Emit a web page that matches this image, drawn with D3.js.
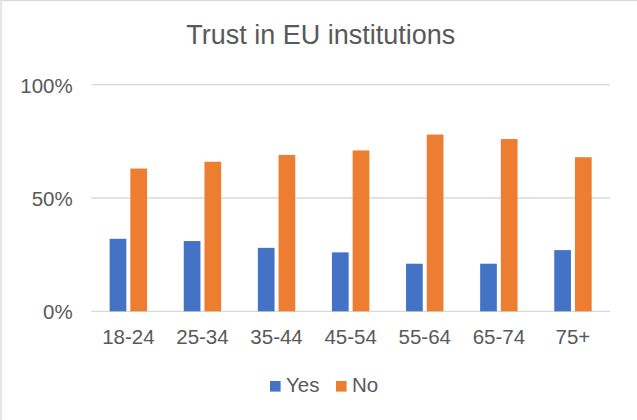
<!DOCTYPE html>
<html>
<head>
<meta charset="utf-8">
<script src="https://cdn.jsdelivr.net/npm/d3@7"></script>
<style>
  html, body { margin: 0; padding: 0; background: #fff; }
  svg { display: block; font-family: Arial, "Liberation Sans", sans-serif; }
</style>
</head>
<body>
<svg id="chart" width="637" height="420"></svg>
<script>
// Age groups along the x axis
const ageGroups = ["18-24", "25-34", "35-44", "45-54", "55-64", "65-74", "75+"];
// Share of respondents per age group (percent)
const yesValues = [32, 31, 28, 26, 21, 21, 27];
const noValues  = [63, 66, 69, 71, 78, 76, 68];
const seriesNames = ["Yes", "No"];
const seriesColors = ["#4472C4", "#ED7D31"];
const yTicks = [0, 50, 100];
const chartTitle = "Trust in EU institutions";

const svg = d3.select("#chart");
const W = 637, H = 420;
const textColor = "#595959";
const gridColor = "#d9d9d9";

// Chart frame
svg.append("rect")
  .attr("x", 1).attr("y", 0.5)
  .attr("width", W + 10).attr("height", H + 10)
  .attr("fill", "#fff")
  .attr("stroke", gridColor).attr("stroke-width", 1.3);

const plot = { left: 91.3, right: 610, top: 84.7, bottom: 311.3 };

const x0 = d3.scaleBand().domain(ageGroups).range([plot.left, plot.right]).padding(0);
const groupW = x0.bandwidth() * 0.505;
const x1 = d3.scaleBand().domain(seriesNames)
  .range([(x0.bandwidth() - groupW) / 2, (x0.bandwidth() + groupW) / 2])
  .paddingInner(0.193);
const y = d3.scaleLinear().domain([0, 100]).range([plot.bottom, plot.top]);

// Gridlines
svg.append("g").selectAll("line").data(yTicks).join("line")
  .attr("x1", plot.left).attr("x2", plot.right)
  .attr("y1", d => y(d)).attr("y2", d => y(d))
  .attr("stroke", gridColor).attr("stroke-width", 1.3);

// Y axis labels
const yAxis = d3.axisLeft(y).tickValues(yTicks).tickFormat(d => d + "%").tickSize(0).tickPadding(0);
const yg = svg.append("g").attr("transform", `translate(${72.7},0)`).call(yAxis);
yg.select(".domain").remove();
yg.selectAll("text")
  .attr("fill", textColor).attr("font-size", "20.5px")
  .attr("font-family", "Arial, 'Liberation Sans', sans-serif")
  .attr("dy", "0.36em");

// X axis labels
const xAxis = d3.axisBottom(x0).tickSize(0).tickPadding(0);
const xg = svg.append("g").attr("transform", `translate(0,${plot.bottom})`).call(xAxis);
xg.select(".domain").remove();
xg.selectAll("text")
  .attr("fill", textColor).attr("font-size", "20.5px")
  .attr("font-family", "Arial, 'Liberation Sans', sans-serif")
  .attr("y", 32.7).attr("dy", 0);

// Bars
const rows = ageGroups.map((g, i) => ({ group: g, values: [yesValues[i], noValues[i]] }));
const groups = svg.append("g").selectAll("g").data(rows).join("g")
  .attr("transform", d => `translate(${x0(d.group)},0)`);
groups.selectAll("rect")
  .data(d => d.values.map((v, k) => ({ key: seriesNames[k], value: v, color: seriesColors[k] })))
  .join("rect")
  .attr("x", d => x1(d.key))
  .attr("width", x1.bandwidth())
  .attr("y", d => y(d.value))
  .attr("height", d => y(0) - y(d.value))
  .attr("fill", d => d.color);

// Title
svg.append("text")
  .attr("x", 320.8).attr("y", 44.3)
  .attr("text-anchor", "middle")
  .attr("fill", textColor).attr("font-size", "27px")
  .text(chartTitle);

// Legend
const legendItems = [
  { name: seriesNames[0], color: seriesColors[0], sx: 270, tx: 286 },
  { name: seriesNames[1], color: seriesColors[1], sx: 336, tx: 352 }
];
const lg = svg.append("g");
lg.selectAll("rect").data(legendItems).join("rect")
  .attr("x", d => d.sx).attr("y", 381)
  .attr("width", 10.6).attr("height", 10.6)
  .attr("fill", d => d.color);
lg.selectAll("text").data(legendItems).join("text")
  .attr("x", d => d.tx).attr("y", 392.3)
  .attr("fill", textColor).attr("font-size", "20.5px")
  .text(d => d.name);
</script>
</body>
</html>
